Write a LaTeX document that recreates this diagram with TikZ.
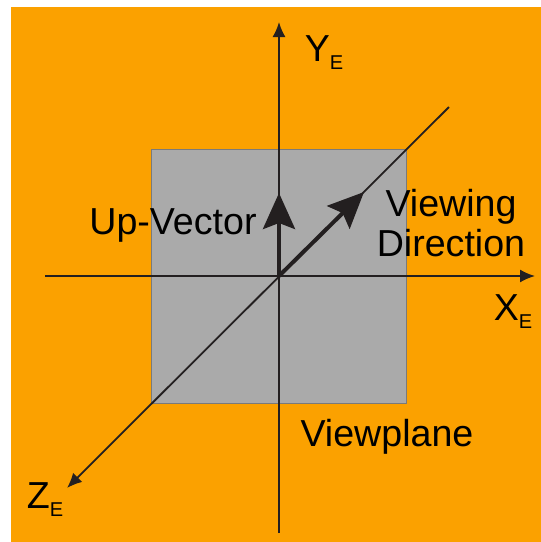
\documentclass[tikz,border=0pt]{standalone}
\usepackage{fontspec}
\setmainfont{Liberation Sans}
\usetikzlibrary{arrows.meta, positioning}
\definecolor{Bg}{HTML}{FBA100}
\definecolor{Plane}{HTML}{AAAAAA}
\definecolor{PlaneEdge}{HTML}{7A7A7A}
\definecolor{Ink}{HTML}{231F20}
\newcommand{\axsub}[1]{\raisebox{-4pt}{\fontsize{10}{10}\selectfont #1}}
\tikzset{
    axis/.style={-{Latex[length=7.5pt,width=6.5pt]}, line width=0.9pt, color=Ink},
    bigarrow/.style={-{Stealth[length=18pt,width=16pt,inset=3pt]}, line width=2pt, color=Ink},
    lbl/.style={font=\fontsize{18.8}{20}\selectfont, text=black, align=center, inner sep=0pt},
    planebox/.style={rectangle, fill=Plane, draw=PlaneEdge, line width=0.4pt, minimum width=127.5pt, minimum height=127pt, inner sep=0pt},
}

\begin{document}
\begin{tikzpicture}[x=0.5pt, y=-0.5pt]

    % Rahmen
    \useasboundingbox (0,0) rectangle (541,542);
    \fill[Bg] (11,7) rectangle (541,542);

    % Punkte
    \coordinate (O) at (279,276);
    \coordinate (yTop) at (279,22);
    \coordinate (yBot) at (279,533);
    \coordinate (xLeft) at (45,276);
    \coordinate (xRight) at (535,276);
    \coordinate (zEnd) at (67,488);
    \coordinate (dEnd) at (449,107);
    \coordinate (upTip) at (279,193);
    \coordinate (viewTip) at (364,192);

    % Bildebene
    \node[planebox] (plane) at (O) {};

    % Achsen
    \draw[axis] (yBot) -- (yTop);
    \draw[axis] (xLeft) -- (xRight);
    \draw[axis] (dEnd) -- (zEnd);

    % Vektoren
    \draw[bigarrow] (O) -- (upTip);
    \draw[bigarrow] (O) -- (viewTip);

    % Beschriftung
    \node[lbl] (ylab) at (324,53) {Y\axsub{E}};
    \node[lbl] (xlab) at (513,312) {X\axsub{E}};
    \node[lbl] (zlab) at (45,500) {Z\axsub{E}};
    \node[lbl] (uplab) at (173,225) {Up-Vector};
    \node[lbl, text depth=0pt] (viewlab) at (451,223) {Viewing\\Direction};
    \node[lbl] (planelab) at (387,437) {Viewplane};

\end{tikzpicture}
\end{document}
